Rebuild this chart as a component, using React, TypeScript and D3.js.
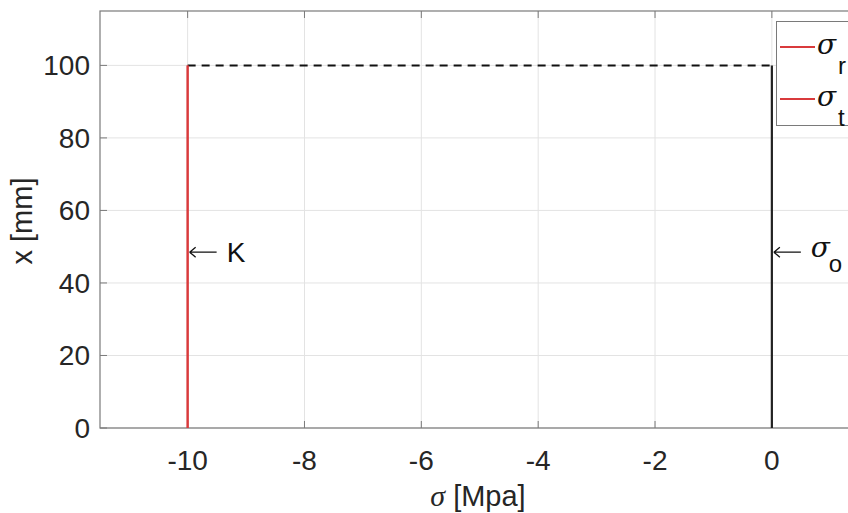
import React from "react";
import * as d3 from "d3";

const xTicks = [-10, -8, -6, -4, -2, 0];
const yTicks = [0, 20, 40, 60, 80, 100];
const xDomain = [-11.5, 1.5];
const yDomain = [0, 115];

// series: sigma_r and sigma_t (red, overlap at -10), dashed top, sigma_o at 0
const sigmaR = [{ s: -10, x: 0 }, { s: -10, x: 100 }];
const sigmaT = [{ s: -10, x: 0 }, { s: -10, x: 100 }];
const topDashed = [{ s: -10, x: 100 }, { s: 0, x: 100 }];
const sigmaO = [{ s: 0, x: 0 }, { s: 0, x: 100 }];
const annotK = { s: -10, x: 48.5, label: "K" };
const annotO = { s: 0, x: 48.5, label: "o" };

const W = 848;
const H = 513;
const left = 100;
const top = 11;
const bottom = 428;
const right = 859.5;

export default function App() {
  const xs = d3.scaleLinear().domain(xDomain).range([left, right]);
  const ys = d3.scaleLinear().domain(yDomain).range([bottom, top]);
  const line = d3
    .line<{ s: number; x: number }>()
    .x((d) => xs(d.s))
    .y((d) => ys(d.x));
  const tickColor = "#262626";
  const boxColor = "#7a7a7a";
  const red = "#d93a3c";
  const font = "'Liberation Sans', Arial, sans-serif";
  const serif = "'DejaVu Serif', 'Liberation Serif', serif";
  const fs = 28;
  const arrow = (x0: number, y0: number) =>
    `M${x0},${y0} h27 M${x0},${y0} l6,-5 M${x0},${y0} l6,5`;
  return (
    <svg
      width={W}
      height={H}
      style={{ position: "absolute", left: 0, top: 0, background: "#fff" }}
      fontFamily={font}
    >
      <rect x={0} y={0} width={W} height={H} fill="#fff" />
      {/* grid */}
      {xTicks.map((t) => (
        <line key={"gx" + t} x1={xs(t)} x2={xs(t)} y1={top} y2={bottom} stroke="#e3e3e3" strokeWidth={1} />
      ))}
      {yTicks.map((t) => (
        <line key={"gy" + t} x1={left} x2={right} y1={ys(t)} y2={ys(t)} stroke="#e3e3e3" strokeWidth={1} />
      ))}
      {/* box */}
      <rect x={left} y={top} width={right - left} height={bottom - top} fill="none" stroke={boxColor} strokeWidth={1.2} />
      {/* ticks */}
      {xTicks.map((t) => (
        <g key={"tx" + t}>
          <line x1={xs(t)} x2={xs(t)} y1={bottom} y2={bottom - 7} stroke={boxColor} />
          <line x1={xs(t)} x2={xs(t)} y1={top} y2={top + 7} stroke={boxColor} />
          <text x={xs(t)} y={bottom + 42} textAnchor="middle" fontSize={fs} fill={tickColor}>
            {t}
          </text>
        </g>
      ))}
      {yTicks.map((t) => (
        <g key={"ty" + t}>
          <line x1={left} x2={left + 7} y1={ys(t)} y2={ys(t)} stroke={boxColor} />
          <text x={left - 10} y={ys(t) + 10} textAnchor="end" fontSize={fs} fill={tickColor}>
            {t}
          </text>
        </g>
      ))}
      {/* data lines */}
      <path d={line(topDashed) || ""} fill="none" stroke="#111" strokeWidth={2} strokeDasharray="8,6" />
      <path d={line(sigmaO) || ""} fill="none" stroke="#222" strokeWidth={2.2} />
      <path d={line(sigmaT) || ""} fill="none" stroke={red} strokeWidth={2} />
      <path d={line(sigmaR) || ""} fill="none" stroke={red} strokeWidth={2} />
      {/* annotations */}
      <g fill="#111">
        <path d={arrow(xs(annotK.s) + 2, ys(annotK.x))} stroke="#111" strokeWidth={1.3} fill="none" />
        <text x={xs(annotK.s) + 39} y={ys(annotK.x) + 10} fontSize={fs} fill="#111">
          {annotK.label}
        </text>
        <path d={arrow(xs(annotO.s) + 2, ys(annotO.x))} stroke="#111" strokeWidth={1.3} fill="none" />
        <text x={xs(annotO.s) + 39} y={ys(annotO.x) + 5} fontSize={fs} fontFamily={serif} fontStyle="italic" fill="#111">
          σ
        </text>
        <text x={xs(annotO.s) + 57} y={ys(annotO.x) + 20} fontSize={fs - 4} fill="#111">
          {annotO.label}
        </text>
      </g>
      {/* legend */}
      <rect x={776.5} y={21.5} width={100} height={104} fill="#fff" stroke={boxColor} strokeWidth={1} />
      {[
        { y: 47, sub: "r" },
        { y: 99, sub: "t" },
      ].map((e) => (
        <g key={e.sub}>
          <line x1={780} x2={815} y1={e.y} y2={e.y} stroke={red} strokeWidth={2} />
          <text x={817} y={e.y + 7} fontSize={fs} fontFamily={serif} fontStyle="italic" fill="#111">
            σ
          </text>
          <text x={838} y={e.y + 27} fontSize={fs - 4} fill="#111">
            {e.sub}
          </text>
        </g>
      ))}
      {/* axis labels */}
      <text x={478} y={506} textAnchor="middle" fontSize={29} fill={tickColor}>
        <tspan fontFamily="'Liberation Serif', serif" fontStyle="italic" fontSize={30}>σ</tspan>
        <tspan> [Mpa]</tspan>
      </text>
      <text
        transform={`translate(32, 221) rotate(-90)`}
        textAnchor="middle"
        fontSize={29}
        fill={tickColor}
      >
        x [mm]
      </text>
    </svg>
  );
}
